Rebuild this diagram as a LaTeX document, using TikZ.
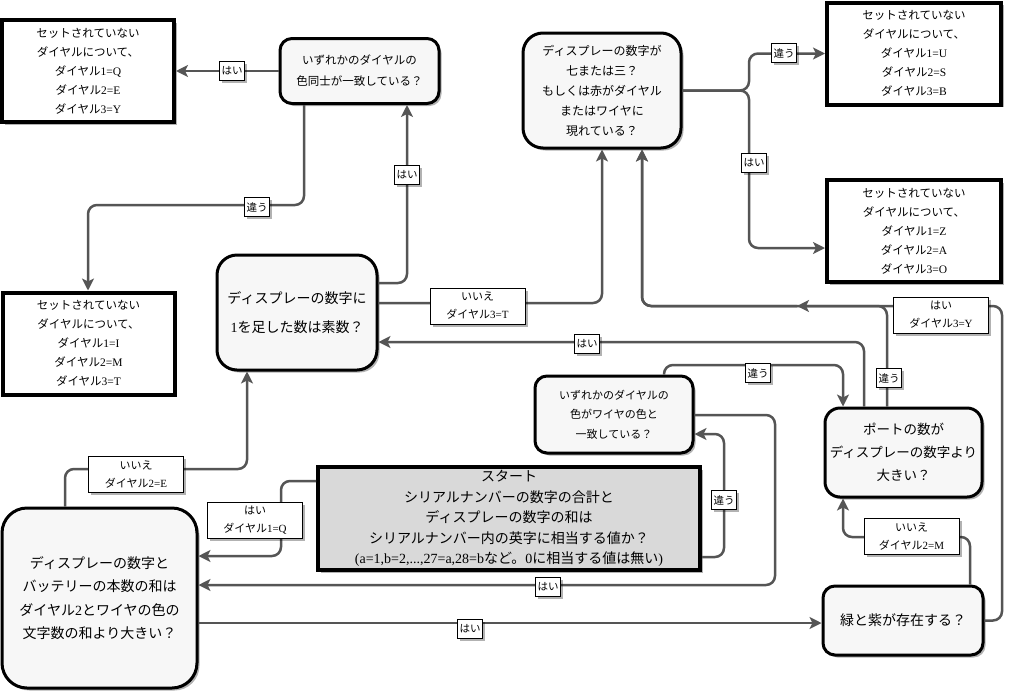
\documentclass[tikz,border=0pt]{standalone}
\usepackage{fontspec}
\newfontfamily\jp{Noto Sans CJK JP}
\newfontfamily\latn{Liberation Serif}
\newcommand\ens[1]{{\latn #1}}
\usetikzlibrary{arrows.meta,shadows}
\definecolor{nodefill}{HTML}{F7F7F7}
\definecolor{startfill}{HTML}{D9D9D9}
\definecolor{linec}{HTML}{555555}
\begin{document}
\begin{tikzpicture}[x=1pt,y=-1pt,
 every node/.style={font=\jp},
 shad/.style={drop shadow={shadow xshift=2.5pt,shadow yshift=-2.5pt,opacity=0.3,fill=black}},
 rbox/.style={draw=black,line width=3pt,fill=nodefill,rounded corners=#1,align=center,inner sep=0pt,shad},
 sbox/.style={draw=black,line width=4pt,fill=white,align=center,inner sep=0pt,shad,minimum width=172pt,minimum height=102pt,font=\jp\fontsize{11.5}{19}\selectfont},
 lbl/.style={draw=black,line width=0.8pt,fill=white,align=center,inner sep=2pt,minimum height=19pt,font=\jp\fontsize{10.5}{12}\selectfont,shad},
 lbltwo/.style={lbl,minimum width=95pt,minimum height=36pt,font=\jp\fontsize{11}{18}\selectfont},
 conn/.style={draw=linec,line width=2.5pt,rounded corners=9pt,-{Stealth[length=12pt,width=12pt,inset=3pt]}}
]
\fill[white] (0,0) rectangle (1025,697);
\useasboundingbox (0,0) rectangle (1025,697);

% nodes
\node[sbox] (A) at (88,71) {セットされていない\\ダイヤルについて、\\ダイヤル\ens{1=Q}\\ダイヤル\ens{2=E}\\ダイヤル\ens{3=Y}};
\node[rbox=12pt,minimum width=159pt,minimum height=65pt,font=\jp\fontsize{11.5}{21}\selectfont] (B) at (359.5,71) {いずれかのダイヤルの\\色同士が一致している？};
\node[rbox=20pt,minimum width=160pt,minimum height=115pt,font=\jp\fontsize{14}{29}\selectfont] (C) at (297,312.5) {ディスプレーの数字に\\\ens{1}を足した数は素数？};
\node[sbox] (D) at (88.5,343.5) {セットされていない\\ダイヤルについて、\\ダイヤル\ens{1=I}\\ダイヤル\ens{2=M}\\ダイヤル\ens{3=T}};
\node[rbox=20pt,minimum width=158pt,minimum height=115pt,font=\jp\fontsize{12}{20}\selectfont] (E) at (602,90.5) {ディスプレーの数字が\\七または三？\\もしくは赤がダイヤル\\またはワイヤに\\現れている？};
\node[sbox,minimum width=174pt] (F) at (914,53.5) {セットされていない\\ダイヤルについて、\\ダイヤル\ens{1=U}\\ダイヤル\ens{2=S}\\ダイヤル\ens{3=B}};
\node[sbox,minimum width=174pt] (G) at (914,231) {セットされていない\\ダイヤルについて、\\ダイヤル\ens{1=Z}\\ダイヤル\ens{2=A}\\ダイヤル\ens{3=O}};
\node[rbox=12pt,minimum width=158pt,minimum height=77pt,font=\jp\fontsize{11}{19.5}\selectfont] (H) at (614,414.5) {いずれかのダイヤルの\\色がワイヤの色と\\一致している？};
\node[rbox=15pt,minimum width=157pt,minimum height=89pt,font=\jp\fontsize{13.5}{23}\selectfont] (K) at (903.5,452.5) {ポートの数が\\ディスプレーの数字より\\大きい？};
\node[draw=black,line width=4pt,fill=startfill,align=center,inner sep=0pt,shad,minimum width=382pt,minimum height=103pt,font=\jp\fontsize{14}{20.5}\selectfont] (S) at (509,518.5) {スタート\\シリアルナンバーの数字の合計と\\ディスプレーの数字の和は\\シリアルナンバー内の英字に相当する値か？\\\ens{(a=1,b=2,...,27=a,28=b}など。\ens{0}に相当する値は無い\ens{)}};
\node[rbox=25pt,minimum width=195pt,minimum height=180pt,font=\jp\fontsize{14}{23.5}\selectfont] (I) at (99.5,598) {ディスプレーの数字と\\バッテリーの本数の和は\\ダイヤル\ens{2}とワイヤの色の\\文字数の和より大きい？};
\node[rbox=12pt,minimum width=160pt,minimum height=69pt,font=\jp\fontsize{14}{20}\selectfont] (J) at (903,620.5) {緑と紫が存在する？};

% connectors
\coordinate (m) at (797,306);
\draw[conn] (B.west) -- (A.east);
\draw[conn] (304,0 |- B.south) -- (304,205) -- (88,205) -- (88,0 |- D.north);
\draw[conn] (C.east |- 0,283) -- (407,283) -- (407,0 |- B.south);
\draw[conn] (C.east |- 0,303) -- (602,303) -- (E.south);
\draw[conn] (E.east) -- (749,0 |- E.east) -- (749,0 |- F.west) -- (F.west);
\draw[conn] (E.east) -- (749,0 |- E.east) -- (749,248) -- (G.west |- 0,248);
\draw[conn] (J.east) -- (1002,0 |- J.east) -- (1002,306) -- (m);
\draw[conn] (m) -- (642,306) -- (642,0 |- E.south);
\draw[conn] (887,0 |- K.north) -- (887,306) -- (642,306) -- (642,0 |- E.south);
\draw[conn] (864,0 |- K.north) -- (864,342) -- (C.east |- 0,342);
\draw[conn] (664,0 |- H.north) -- (664,365) -- (843,365) -- (843,0 |- K.north);
\draw[conn] (H.east |- 0,415) -- (775,415) -- (775,585) -- (I.east |- 0,585);
\draw[conn] (S.east |- 0,557) -- (724,557) -- (724,434) -- (H.east |- 0,434);
\draw[conn] (S.west |- 0,481) -- (281,481) -- (281,556) -- (I.east |- 0,556);
\draw[conn] (65,0 |- I.north) -- (65,469) -- (247,469) -- (247,0 |- C.south);
\draw[conn] (I.east |- 0,623) -- (J.west |- 0,623);
\draw[conn] (970,0 |- J.north) -- (970,537) -- (843,537) -- (843,0 |- K.south);

% labels
\node[lbl] (l1) at (232,71) {はい};
\node[lbl] (l2) at (257,207) {違う};
\node[lbl] (l3) at (407,175) {はい};
\node[lbltwo] (l4) at (477.5,306) {いいえ\\ダイヤル\ens{3=T}};
\node[lbl] (l5) at (784,53) {違う};
\node[lbl] (l6) at (754,163) {はい};
\node[lbltwo] (l7) at (941,315) {はい\\ダイヤル\ens{3=Y}};
\node[lbl] (l8) at (587,344) {はい};
\node[lbl] (l9) at (758,373) {違う};
\node[lbl] (l10) at (889,378) {違う};
\node[lbl] (l11) at (724,500) {違う};
\node[lbl] (l12) at (548,587) {はい};
\node[lbltwo] (l13) at (911.5,536.5) {いいえ\\ダイヤル\ens{2=M}};
\node[lbltwo] (l14) at (136,474.5) {いいえ\\ダイヤル\ens{2=E}};
\node[lbltwo] (l15) at (255,520) {はい\\ダイヤル\ens{1=Q}};
\node[lbl] (l16) at (470,629) {はい};
\end{tikzpicture}
\end{document}
